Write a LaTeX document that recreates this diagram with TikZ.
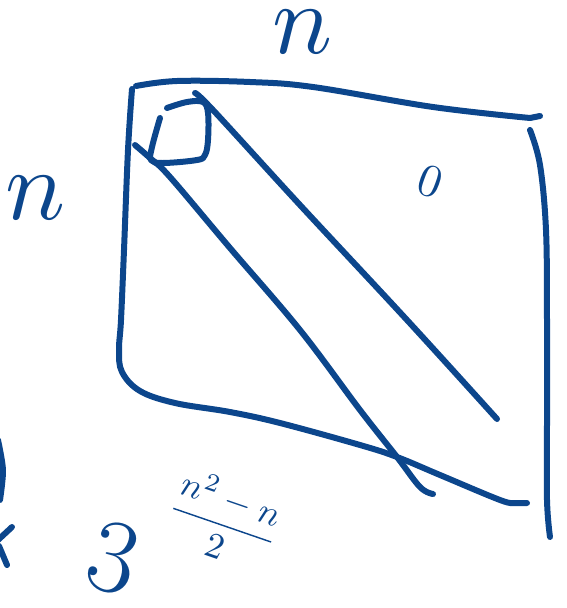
\documentclass[tikz,border=0pt]{standalone}
\usepackage{graphicx}
\definecolor{ink}{RGB}{12,70,140}
\begin{document}
\begin{tikzpicture}[x=1pt,y=-1pt,
  stroke/.style={draw=ink,line width=6pt,line cap=round,line join=round},
  hand/.style={text=ink,inner sep=0pt}]
\useasboundingbox (0,0) rectangle (566,608);
% top edge
\draw[stroke] plot[smooth,tension=0.6] coordinates {(136,86) (177,81) (250,82) (313,87) (433,107) (530,118)} -- (540,116);
% left and bottom edge
\draw[stroke] plot[smooth,tension=0.6] coordinates {(132,89) (128,150) (124,250) (121,320) (119,350) (122,372) (140,391) (175,403) (230,412) (280,423) (360,445) (397,457) (440,475) (500,500) (515,503) (527,503)};
% right edge
\draw[stroke] plot[smooth,tension=0.6] coordinates {(530,130) (540,165) (546,230) (547,320) (547,420) (547,500) (550,537)};
% upper diagonal
\draw[stroke] plot[smooth,tension=0.6] coordinates {(195,93) (213,110) (300,205) (407,320) (497,419)};
% lower diagonal
\draw[stroke] plot[smooth,tension=0.6] coordinates {(135,145) (150,158) (170,177) (230,248) (300,330) (360,410) (397,457) (420,487) (433,494)};
% small square
\draw[stroke] plot[smooth,tension=0.6] coordinates {(160,118) (152,147) (151,160) (163,163) (197,160) (205,155) (208,140) (208,113) (203,102) (187,102) (167,108)};
% fragments at left edge
\draw[stroke] plot[smooth] coordinates {(-2,440) (3,470) (0,500)};
\draw[stroke] (12,527) -- (-2,540);
\draw[stroke] (-1,546) -- (7,565);
% texts
\node[hand] (ntop) at (303,32) {\scalebox{10}{$n$}};
\node[hand] (nleft) at (36,198) {\scalebox{10}{$n$}};
\node[hand,rotate=-20] (zero) at (430,182) {\scalebox{4.6}{$0$}};
\node[hand,font=\fontsize{105}{105}\selectfont,rotate=-15] (three) at (114,558) {3};
\node[hand,rotate=-19] (frac) at (224,520) {\scalebox{3.6}{$\displaystyle\frac{n^2-n}{2}$}};
\end{tikzpicture}
\end{document}
